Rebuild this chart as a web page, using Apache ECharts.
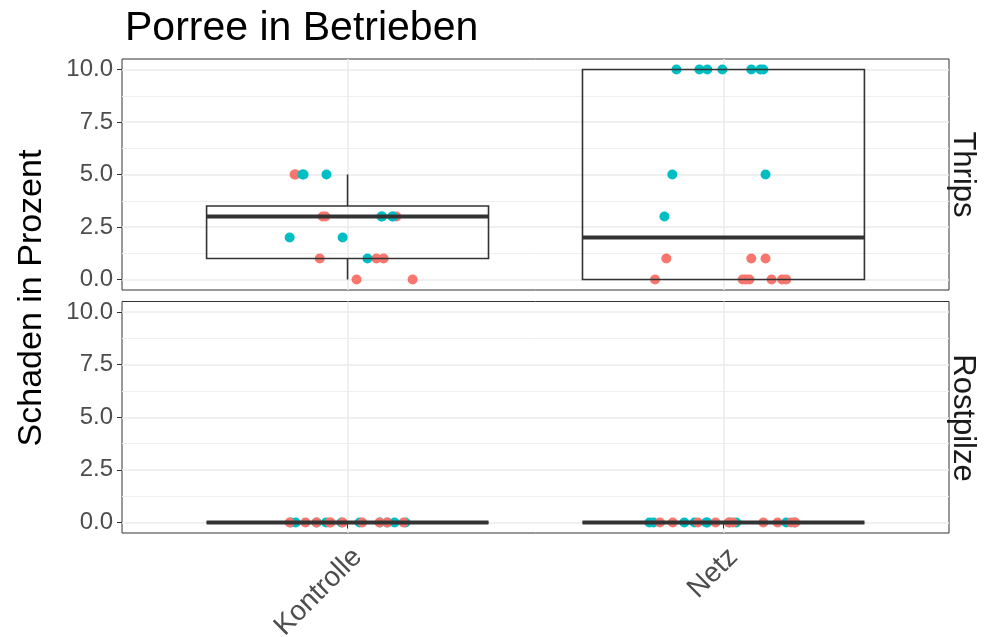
<!DOCTYPE html>
<html><head><meta charset="utf-8">
<script src="https://cdn.jsdelivr.net/npm/echarts@6/dist/echarts.min.js"></script>
<style>html,body{margin:0;padding:0;background:#fff}#c{width:992px;height:637px}</style>
</head><body><div id="c"></div>
<script>
const titleText = 'Porree in Betrieben';
const yTitle = 'Schaden in Prozent';
const categories = ['Kontrolle', 'Netz'];
const facets = ['Thrips', 'Rostpilze'];
const yTicks = [0, 2.5, 5, 7.5, 10];
const yMinorTicks = [1.25, 3.75, 6.25, 8.75];

// box stats per facet: [category index, min, q1, median, q3, max]
const boxThrips = [[0, 0, 1, 3, 3.5, 5], [1, 0, 0, 2, 10, 10]];
const boxRost = [[0, 0, 0, 0, 0, 0], [1, 0, 0, 0, 0, 0]];

// points: [category index, jitter offset, value]
const thripsRed = [
  [0,-0.141,5],[0,-0.138,5],[0,-0.066,3],[0,-0.059,3],[0,0.130,3],
  [0,-0.074,1],[0,0.077,1],[0,0.096,1],[0,0.024,0],[0,0.173,0],
  [1,-0.152,1],[1,0.074,1],[1,0.112,1],
  [1,-0.182,0],[1,0.051,0],[1,0.060,0],[1,0.069,0],[1,0.128,0],[1,0.156,0],[1,0.167,0]
];
const thripsCyan = [
  [0,-0.120,5],[0,-0.117,5],[0,-0.056,5],[0,0.090,3],[0,0.092,3],
  [0,0.119,3],[0,0.121,3],[0,-0.154,2],[0,-0.013,2],[0,0.053,1],
  [1,-0.125,10],[1,-0.064,10],[1,-0.043,10],[1,-0.003,10],[1,0.074,10],[1,0.098,10],[1,0.106,10],
  [1,-0.136,5],[1,0.112,5],[1,-0.157,3]
];
const rostRed = [
  [0,-0.154,0],[0,-0.112,0],[0,-0.083,0],[0,-0.048,0],[0,-0.045,0],
  [0,-0.013,0],[0,0.039,0],[0,0.085,0],[0,0.105,0],[0,0.149,0],
  [1,-0.169,0],[1,-0.135,0],[1,-0.068,0],[1,-0.021,0],[1,0.014,0],
  [1,0.025,0],[1,0.106,0],[1,0.144,0],[1,0.180,0],[1,0.191,0]
];
const rostCyan = [
  [0,-0.138,0],[0,-0.057,0],[0,0.032,0],[0,0.125,0],[0,0.154,0],
  [0,-0.082,0],[0,-0.016,0],[0,0.086,0],[0,0.106,0],[0,-0.151,0],
  [1,-0.197,0],[1,-0.186,0],[1,-0.104,0],[1,-0.077,0],[1,-0.046,0],
  [1,-0.043,0],[1,0.034,0],[1,0.167,0],[1,0.016,0],[1,0.189,0]
];

const RED = '#F8766D', CYAN = '#00BFC4', DARK = '#333333';
const toXY = p => [p[0] + 1 + p[1], p[2]];
const catPos = categories.map((c, i) => i + 1);

const gridLeft = 122, gridRight = 43;
const grids = [
  {left: gridLeft, right: gridRight, top: 59, height: 231},
  {left: gridLeft, right: gridRight, top: 301.5, height: 231.5}
];

function xAxisFor(gi, showLabels) {
  return {
    type: 'value', gridIndex: gi, min: 0.4, max: 2.6,
    axisLine: {show: false},
    axisTick: {show: showLabels, length: 6, customValues: catPos, lineStyle: {color: DARK, width: 1}},
    axisLabel: {
      show: showLabels, customValues: catPos, rotate: 45, margin: 10, verticalAlign: 'top',
      fontFamily: 'Liberation Sans', fontSize: 28, color: '#4D4D4D',
      formatter: v => categories[Math.round(v) - 1] || ''
    },
    splitLine: {show: true, lineStyle: {color: '#EBEBEB', width: 1.5}}
  };
}
function yAxisFor(gi) {
  return {
    type: 'value', gridIndex: gi, min: -0.5, max: 10.5,
    axisLine: {show: false},
    axisTick: {show: true, length: 5, customValues: yTicks, lineStyle: {color: DARK, width: 1}},
    axisLabel: {
      customValues: yTicks, margin: 9, fontFamily: 'Liberation Sans', fontSize: 24, color: '#4D4D4D',
      formatter: v => v.toFixed(1)
    },
    splitLine: {show: true, lineStyle: {color: '#EBEBEB', width: 1.5}}
  };
}
function yMinorFor(gi) {
  return {
    type: 'value', gridIndex: gi, min: -0.5, max: 10.5,
    axisLine: {show: false},
    axisTick: {show: false, customValues: yMinorTicks},
    axisLabel: {show: false, customValues: yMinorTicks},
    splitLine: {show: true, lineStyle: {color: '#EFEFEF', width: 1}}
  };
}

function renderBox(params, api) {
  const x = api.value(0) + 1;
  const hw = 0.375;
  const vmin = api.value(1), q1 = api.value(2), med = api.value(3), q3 = api.value(4), vmax = api.value(5);
  const tl = api.coord([x - hw, q3]);
  const br = api.coord([x + hw, q1]);
  const mL = api.coord([x - hw, med]);
  const mR = api.coord([x + hw, med]);
  const top = api.coord([x, vmax]);
  const bot = api.coord([x, vmin]);
  const q3c = api.coord([x, q3]);
  const q1c = api.coord([x, q1]);
  const ls = {stroke: DARK, lineWidth: 1.6, fill: null};
  const children = [];
  if (vmax > q3) children.push({type: 'line', shape: {x1: top[0], y1: top[1], x2: q3c[0], y2: q3c[1]}, style: ls});
  if (vmin < q1) children.push({type: 'line', shape: {x1: bot[0], y1: bot[1], x2: q1c[0], y2: q1c[1]}, style: ls});
  children.push({type: 'rect', shape: {x: tl[0], y: tl[1], width: br[0] - tl[0], height: br[1] - tl[1]}, style: {stroke: DARK, lineWidth: 1.6, fill: 'none'}});
  children.push({type: 'line', shape: {x1: mL[0], y1: mL[1], x2: mR[0], y2: mR[1]}, style: {stroke: DARK, lineWidth: 4}});
  return {type: 'group', children};
}

function boxSeries(data, gi) {
  return {
    type: 'custom', xAxisIndex: gi, yAxisIndex: gi * 2, z: 5,
    renderItem: renderBox, data: data, encode: {x: 0, y: [1, 2, 3, 4, 5]}, silent: true
  };
}
function pointSeries(data, color, gi, z) {
  return {
    type: 'scatter', xAxisIndex: gi, yAxisIndex: gi * 2, z: z,
    symbolSize: 10, data: data.map(toXY),
    itemStyle: {color: color, opacity: 1}, silent: true
  };
}

const chart = echarts.init(document.getElementById('c'), null, {renderer: 'canvas'});
chart.setOption({
  animation: false,
  backgroundColor: '#ffffff',
  title: {
    text: titleText, left: 120, top: 3,
    textStyle: {fontFamily: 'Liberation Sans', fontSize: 41, fontWeight: 'normal', color: '#000'}
  },
  grid: grids.map(g => Object.assign({show: true, borderColor: DARK, borderWidth: 1, backgroundColor: 'transparent', containLabel: false, outerBoundsMode: 'none'}, g)),
  xAxis: [xAxisFor(0, false), xAxisFor(1, true)],
  yAxis: [yAxisFor(0), yMinorFor(0), yAxisFor(1), yMinorFor(1)],
  series: [
    pointSeries(thripsRed, RED, 0, 2),
    pointSeries(thripsCyan, CYAN, 0, 3),
    boxSeries(boxThrips, 0),
    pointSeries(rostCyan, CYAN, 1, 2),
    pointSeries(rostRed, RED, 1, 3),
    boxSeries(boxRost, 1)
  ],
  graphic: [
    {type: 'text', x: 32, y: 298, rotation: Math.PI / 2,
      style: {text: yTitle, font: '34px "Liberation Sans"', fill: '#000', textAlign: 'center', textVerticalAlign: 'middle'}},
    {type: 'text', x: 963, y: 174.5, rotation: -Math.PI / 2,
      style: {text: facets[0], font: '31px "Liberation Sans"', fill: '#1A1A1A', textAlign: 'center', textVerticalAlign: 'middle'}},
    {type: 'text', x: 963, y: 418, rotation: -Math.PI / 2,
      style: {text: facets[1], font: '31px "Liberation Sans"', fill: '#1A1A1A', textAlign: 'center', textVerticalAlign: 'middle'}}
  ]
});
</script></body></html>
